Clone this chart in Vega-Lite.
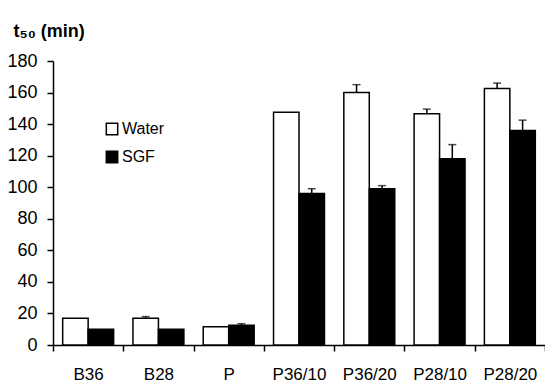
{
  "$schema": "https://vega.github.io/schema/vega-lite/v6.json",
  "width": 492,
  "height": 284,
  "autosize": {"type": "none"},
  "padding": {"left": 53, "top": 61, "right": 0, "bottom": 40},
  "background": "white",
  "config": {
    "view": {"stroke": null},
    "font": "Liberation Sans",
    "axisY": {
      "values": [0, 20, 40, 60, 80, 100, 120, 140, 160, 180],
      "labelOverlap": false,
      "titleAngle": 0, "titleAlign": "left",
      "titleBaseline": "alphabetic", "titleX": -40, "titleY": -25,
      "titleFontSize": 18, "titleFontWeight": "bold", "titleColor": "black",
      "labelFontSize": 18, "labelColor": "black", "labelPadding": 10,
      "tickSize": 6, "tickColor": "black", "tickWidth": 1.5,
      "domainColor": "black", "domainWidth": 1.5, "grid": false
    }
  },
  "data": {
    "values": [
      {"sample": "B36", "medium": "Water", "t50": 17, "top": null},
      {"sample": "B36", "medium": "SGF", "t50": 10, "top": null},
      {"sample": "B28", "medium": "Water", "t50": 17, "top": 18},
      {"sample": "B28", "medium": "SGF", "t50": 10, "top": null},
      {"sample": "P", "medium": "Water", "t50": 11.5, "top": null},
      {"sample": "P", "medium": "SGF", "t50": 12.5, "top": 13.5},
      {"sample": "P36/10", "medium": "Water", "t50": 147.5, "top": null},
      {"sample": "P36/10", "medium": "SGF", "t50": 96, "top": 99},
      {"sample": "P36/20", "medium": "Water", "t50": 160, "top": 165},
      {"sample": "P36/20", "medium": "SGF", "t50": 99, "top": 101},
      {"sample": "P28/10", "medium": "Water", "t50": 146.5, "top": 149.5},
      {"sample": "P28/10", "medium": "SGF", "t50": 118, "top": 127},
      {"sample": "P28/20", "medium": "Water", "t50": 162.5, "top": 166},
      {"sample": "P28/20", "medium": "SGF", "t50": 136, "top": 142.5}
    ]
  },
  "encoding": {
    "x": {
      "field": "sample", "type": "nominal", "sort": null,
      "scale": {"paddingInner": 0, "paddingOuter": 0},
      "axis": {
        "title": null, "labelAngle": 0, "tickBand": "extent",
        "labelFontSize": 17, "labelColor": "black", "labelPadding": 15,
        "labelOverlap": false,
        "tickSize": 6, "tickColor": "black", "tickWidth": 1.5,
        "domainColor": "black", "domainWidth": 1.5
      }
    },
    "xOffset": {
      "field": "medium", "type": "nominal", "sort": ["Water", "SGF"],
      "scale": {"paddingInner": 0, "paddingOuter": 0.38}
    }
  },
  "layer": [
    {
      "mark": {"type": "bar", "stroke": "black", "strokeWidth": 1.5},
      "encoding": {
        "y": {
          "field": "t50", "type": "quantitative",
          "scale": {"domain": [0, 180], "nice": false},
          "title": "t₅₀ (min)"
        },
        "fill": {
          "field": "medium", "type": "nominal", "sort": ["Water", "SGF"],
          "scale": {"domain": ["Water", "SGF"], "range": ["white", "black"]},
          "legend": {
            "title": null, "orient": "none", "legendX": 51, "legendY": 60,
            "symbolType": "square", "symbolSize": 130,
            "symbolStrokeColor": "black", "symbolStrokeWidth": 1.5,
            "labelFontSize": 16, "labelColor": "black", "rowPadding": 10, "labelOffset": 2
          }
        }
      }
    },
    {
      "transform": [{"filter": "datum.top != null"}],
      "mark": {"type": "rule", "color": "black", "strokeWidth": 1.5},
      "encoding": {
        "y": {"field": "t50", "type": "quantitative", "title": "t₅₀ (min)"},
        "y2": {"field": "top"}
      }
    },
    {
      "transform": [{"filter": "datum.top != null"}],
      "mark": {"type": "tick", "color": "black", "thickness": 1.5, "size": 8, "orient": "horizontal"},
      "encoding": {
        "y": {"field": "top", "type": "quantitative", "title": "t₅₀ (min)"}
      }
    }
  ]
}
